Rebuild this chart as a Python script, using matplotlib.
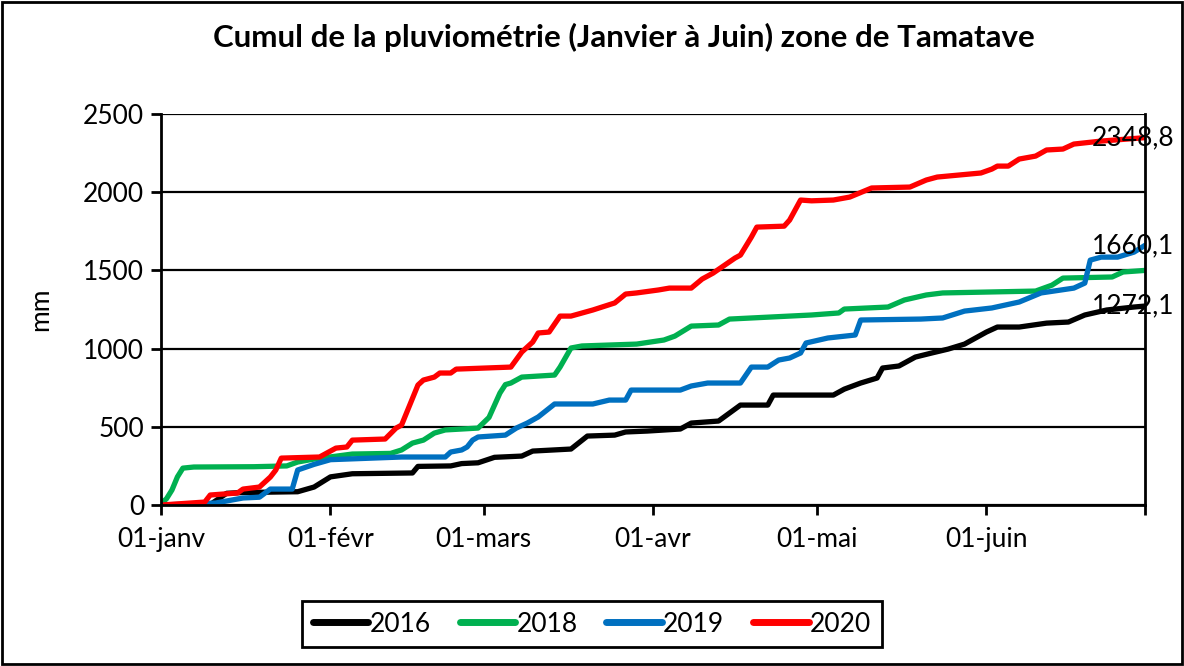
import matplotlib.pyplot as plt
from matplotlib.patches import Rectangle

plt.rcParams['font.family'] = ['Lato', 'DejaVu Sans']

# jours depuis le 01-janv, cumul en mm
jours_2016 = [0, 9, 12, 15, 25, 28, 31, 35, 46, 47, 53, 55, 58, 61, 66, 68, 75, 78, 83, 85, 89,
              95, 97, 102, 104, 106, 111, 112, 123, 125, 128, 131, 132, 135, 138, 141, 144, 147,
              151, 153, 157, 162, 166, 169, 173, 178, 180]
cumul_2016 = [0, 3, 75, 80, 85, 115, 180, 200, 205, 247, 250, 265, 270, 305, 313, 345, 358, 441,
              447, 467, 473, 486, 524, 537, 588, 639, 639, 703, 703, 741, 780, 812, 876, 889, 946,
              972, 997, 1029, 1106, 1138, 1138, 1163, 1170, 1215, 1247, 1266, 1272.1]

jours_2018 = [0, 1, 2, 3, 4, 6, 17, 23, 25, 28, 35, 42, 44, 46, 48, 50, 52, 58, 60, 62, 63, 64,
              66, 72, 73, 75, 77, 87, 92, 94, 97, 102, 104, 119, 124, 125, 133, 136, 140, 143,
              160, 163, 165, 174, 176, 180]
cumul_2018 = [10, 40, 96, 180, 236, 243, 245, 250, 275, 294, 326, 330, 352, 396, 415, 460, 480,
              492, 560, 716, 770, 780, 818, 831, 882, 1004, 1017, 1029, 1055, 1080, 1144, 1151,
              1189, 1215, 1228, 1253, 1266, 1311, 1343, 1356, 1368, 1406, 1451, 1458, 1490, 1500]

jours_2019 = [0, 10, 15, 18, 20, 24, 25, 28, 31, 44, 52, 53, 55, 56, 57, 58, 63, 65, 67, 69, 72,
              79, 82, 85, 86, 95, 97, 100, 106, 108, 111, 113, 115, 117, 118, 122, 127, 128, 139,
              143, 147, 152, 157, 161, 167, 169, 170, 172, 175, 178, 180]
cumul_2019 = [0, 13, 45, 50, 102, 102, 224, 260, 290, 307, 307, 339, 352, 371, 415, 435, 447,
              492, 524, 563, 646, 646, 671, 671, 735, 735, 761, 780, 780, 882, 882, 927, 940, 972,
              1036, 1068, 1087, 1183, 1189, 1196, 1240, 1260, 1298, 1356, 1387, 1419, 1566, 1585,
              1585, 1617, 1660.1]

jours_2020 = [0, 8, 9, 14, 15, 18, 20, 21, 22, 29, 32, 34, 35, 41, 43, 44, 47, 48, 50, 51, 53,
              54, 64, 66, 68, 69, 71, 73, 75, 79, 83, 85, 87, 91, 93, 97, 99, 101, 105, 106, 108,
              109, 114, 115, 117, 119, 123, 126, 130, 137, 140, 142, 150, 152, 153, 155, 157,
              160, 162, 165, 167, 172, 180]
cumul_2020 = [0, 19, 64, 77, 102, 115, 179, 224, 300, 307, 364, 371, 415, 422, 492, 511, 767,
              799, 818, 844, 844, 869, 882, 978, 1042, 1100, 1106, 1208, 1208, 1247, 1292, 1349,
              1356, 1375, 1387, 1387, 1445, 1483, 1579, 1598, 1713, 1777, 1783, 1822, 1950, 1945,
              1950, 1969, 2027, 2033, 2078, 2097, 2123, 2148, 2167, 2167, 2212, 2231, 2270, 2276,
              2308, 2327, 2348.8]

mois_pos = [0, 31, 59, 90, 120, 151, 180]
mois_labels = ["01-janv", "01-févr", "01-mars", "01-avr", "01-mai", "01-juin", ""]

series = [
    ("2016", jours_2016, cumul_2016, "black", True),
    ("2018", jours_2018, cumul_2018, "#00B050", False),
    ("2019", jours_2019, cumul_2019, "#0070C0", True),
    ("2020", jours_2020, cumul_2020, "#FF0000", True),
]

fig = plt.figure(figsize=(11.84, 6.66), dpi=100)
ax = fig.add_axes([0.136, 0.2417, 0.831, 0.5871])

for nom, x, y, couleur, etiquette in series:
    ax.plot(x, y, color=couleur, lw=3.8, label=nom, solid_capstyle="round")
    if etiquette:
        ax.annotate(f"{y[-1]:.1f}".replace(".", ","), (x[-1], y[-1]),
                    xytext=(-12, 0), textcoords="offset pixels",
                    ha="center", va="center", fontsize=19)

ax.set_xlim(0, 180)
ax.set_ylim(0, 2500)
ax.set_yticks(range(0, 2501, 500))
ax.set_xticks(mois_pos)
ax.set_xticklabels(mois_labels)
ax.grid(axis="y", color="black", lw=1.6)
ax.set_axisbelow(True)
for s in ["left", "bottom", "right"]:
    ax.spines[s].set_linewidth(2)
ax.spines["top"].set_visible(False)
ax.tick_params(axis="both", direction="out", length=7, width=2, labelsize=19, pad=5)
ax.tick_params(axis="x", pad=9)
ax.set_ylabel("mm", fontsize=19, labelpad=22)

fig.suptitle("Cumul de la pluviométrie (Janvier à Juin) zone de Tamatave",
             x=0.527, y=0.965, fontsize=22.5, fontweight="bold")

leg = fig.legend(loc="center", bbox_to_anchor=(0.5, 0.063), ncol=4, fontsize=19,
                 fancybox=False, edgecolor="black", framealpha=1,
                 handlelength=2.1, handletextpad=0.05, columnspacing=1.1,
                 borderpad=0.4)
leg.get_frame().set_linewidth(2)
for ligne in leg.get_lines():
    ligne.set_linewidth(5)

fig.patches.append(Rectangle((0.002, 0.003), 0.996, 0.994, transform=fig.transFigure,
                             fill=False, edgecolor="black", lw=2))

fig.savefig("out.png", dpi=100)
